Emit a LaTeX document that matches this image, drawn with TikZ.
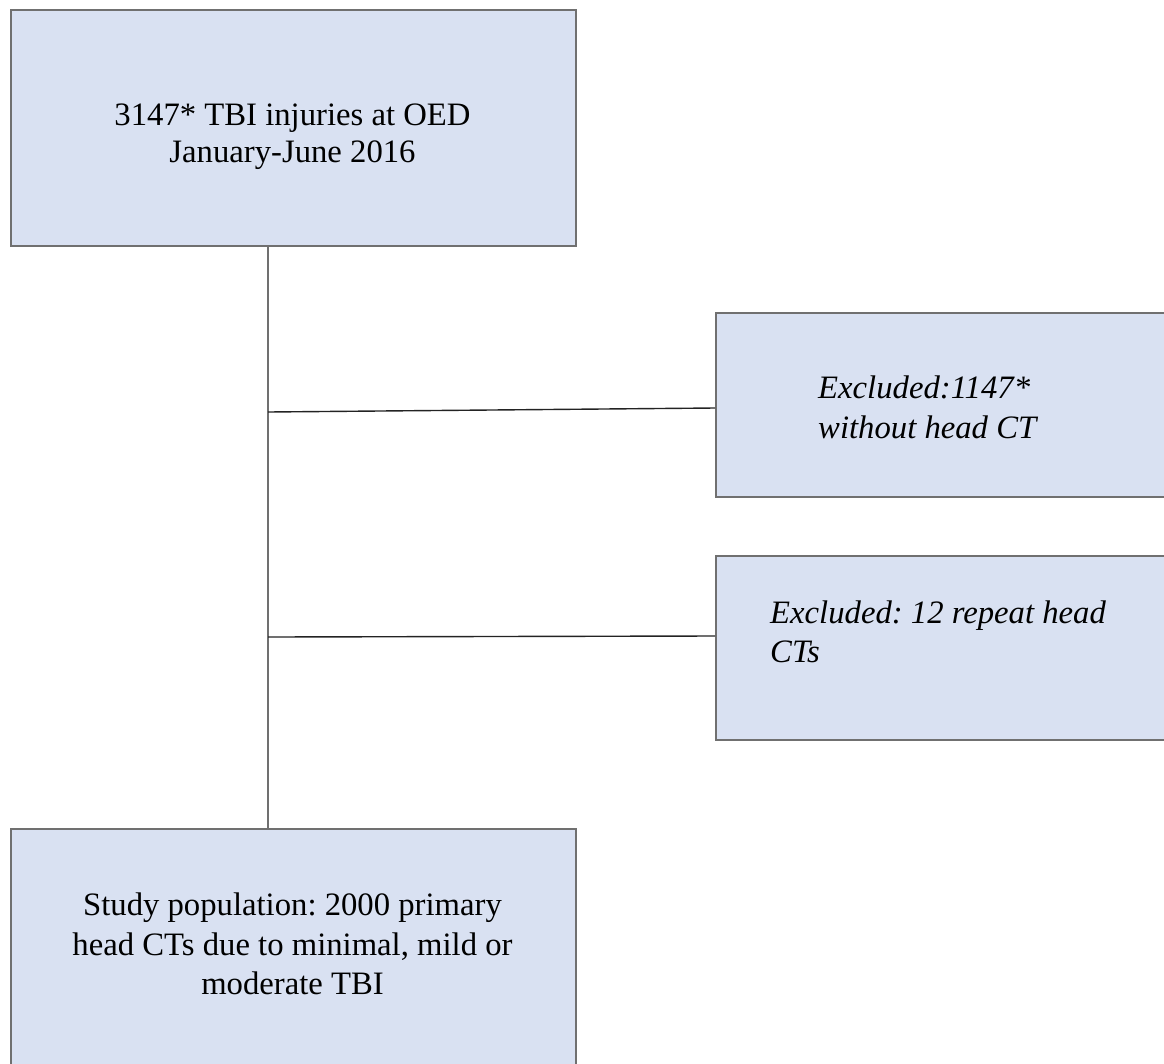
\documentclass[tikz,border=0pt]{standalone}
\usepackage{fontspec}
\setmainfont{Liberation Serif}
\frenchspacing
\definecolor{boxfill}{RGB}{217,225,242}
\definecolor{boxline}{RGB}{112,112,112}
\definecolor{linkline}{RGB}{35,35,35}
\tikzset{
  flowbox/.style={draw=boxline, fill=boxfill, line width=2pt, inner sep=0pt, anchor=north west},
  txt/.style={font=\fontsize{32.7pt}{39.5pt}\selectfont\frenchspacing, inner sep=0pt},
  itxt/.style={txt, font=\fontsize{32.7pt}{39.5pt}\selectfont\itshape\frenchspacing},
  trunk/.style={draw=boxline, line width=2.2pt},
  branch/.style={draw=linkline, line width=1.4pt}
}
\begin{document}
\begin{tikzpicture}[x=1pt,y=-1pt]
\useasboundingbox (0,0) rectangle (1164,1063);
\begin{scope}
\clip (0,0) rectangle (1164,1063);
\node[flowbox, minimum width=565pt, minimum height=236pt] (top) at (10,9) {};
\node[flowbox, minimum width=460pt, minimum height=184pt] (ex1) at (715,312) {};
\node[flowbox, minimum width=460pt, minimum height=184pt] (ex2) at (715,555) {};
\node[flowbox, minimum width=565pt, minimum height=250pt] (bot) at (10,828) {};
\end{scope}

\node[txt, anchor=base] (t1) at (292.5,125) {3147* TBI injuries at OED};
\node[txt, anchor=base] (t2) at (292.5,162) {January-June 2016};

\node[itxt, anchor=base west] (e1a) at (818,398) {Excluded:1147*};
\node[itxt, anchor=base west] (e1b) at (818,438) {without head CT};

\node[itxt, anchor=base west] (e2a) at (770,623) {Excluded: 12 repeat head};
\node[itxt, anchor=base west] (e2b) at (770,662) {CTs};

\node[txt, anchor=base] (b1) at (292.5,915) {Study population: 2000 primary};
\node[txt, anchor=base] (b2) at (292.5,955) {head CTs due to minimal, mild or};
\node[txt, anchor=base] (b3) at (292.5,994) {moderate TBI};

\coordinate (vtop) at (268,245);
\coordinate (vbot) at (268,828);
\coordinate (j1) at (268,412);
\coordinate (j2) at (268,637);
\coordinate (e1in) at (715,408);
\coordinate (e2in) at (715,636);

\draw[trunk] (top.south -| vtop) -- (bot.north -| vbot);
\draw[branch] (j1) -- (e1in);
\draw[branch] (j2) -- (e2in);
\end{tikzpicture}
\end{document}
